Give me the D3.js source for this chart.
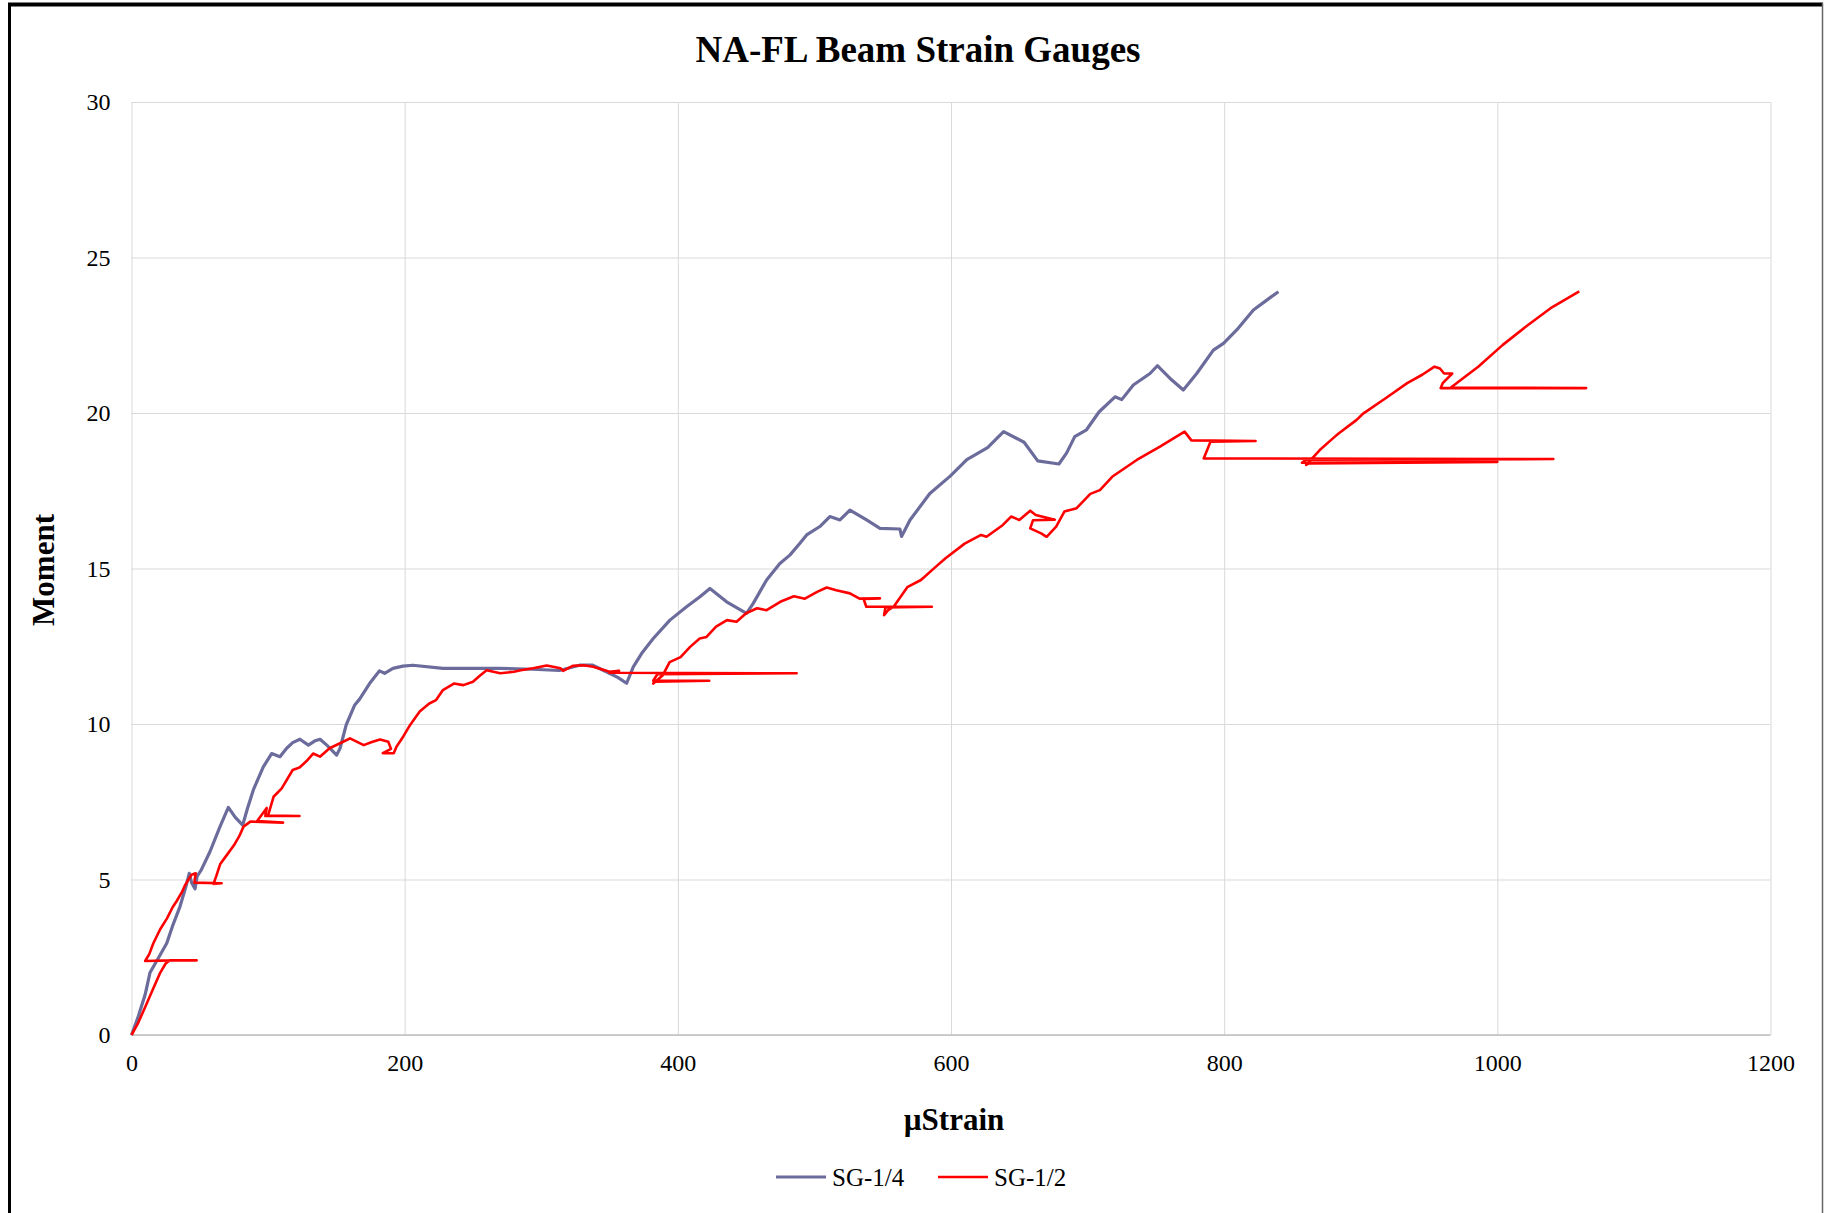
<!DOCTYPE html>
<html>
<head>
<meta charset="utf-8">
<script src="https://cdn.jsdelivr.net/npm/d3@7"></script>
<style>
  body { margin: 0; background: #fff; }
  svg { display: block; font-family: "Liberation Serif", "Times New Roman", serif; }
  .grid line { stroke: #d9d9d9; stroke-width: 1; }
  .tick text { fill: #000; }
</style>
</head>
<body>
<svg id="chart" width="1824" height="1213"></svg>
<script>
// series: [µStrain, Moment]
var sgQuarter = [
  [0,0],[5,0.6],[10,1.3],[13.5,2.0],[20,2.5],[25.8,2.95],[30,3.5],[35.5,4.13],[40,4.8],[42.3,5.2],
  [44,4.9],[46.5,4.7],[48,5.1],[51,5.3],[57.5,5.9],[64.8,6.7],[70.9,7.32],[76,7.0],[81.4,6.75],
  [85,7.3],[89.2,7.88],[96.5,8.62],[102.6,9.05],[108.7,8.95],[113.6,9.22],[118,9.4],[123.3,9.51],
  [129.5,9.32],[134,9.45],[138,9.51],[143,9.32],[150.2,9.0],[152.7,9.22],[157.2,9.97],[163.3,10.6],
  [167,10.8],[174.3,11.3],[181.6,11.71],[185.3,11.63],[191.4,11.79],[198.7,11.86],[206,11.89],
  [228,11.79],[245,11.79],[269.4,11.79],[293.8,11.76],[313.3,11.72],[328,11.89],[337.7,11.89],
  [349.9,11.63],[356,11.5],[362.5,11.31],[367.4,11.84],[374,12.3],[382,12.75],[394.2,13.34],
  [406.4,13.77],[416.2,14.09],[423.5,14.36],[435.7,13.93],[450.3,13.56],[455.2,13.88],[465,14.63],
  [474.7,15.16],[482,15.43],[489.4,15.81],[494.3,16.08],[504,16.35],[511.3,16.67],[518.7,16.56],
  [526,16.88],[538.2,16.56],[548,16.29],[562.6,16.27],[563.8,16.03],[570,16.56],[584.5,17.41],
  [599.4,17.97],[611.6,18.5],[626.8,18.89],[638.5,19.4],[653.5,19.06],[663.5,18.46],[679,18.36],
  [684.6,18.71],[690.6,19.24],[699.2,19.46],[708.5,20.04],[720.1,20.52],[725,20.43],[733.5,20.9],
  [745.7,21.27],[751.1,21.52],[760.4,21.11],[770.1,20.74],[779.9,21.27],[792.1,22.02],[799.5,22.24],
  [809.2,22.67],[821.4,23.31],[831.2,23.63],[839.7,23.9]
];

var sgHalf = [
  [0,0],[5,0.4],[11,1.0],[16,1.5],[21,2.0],[25,2.3],[28,2.4],[47.7,2.4],[30,2.4],[10,2.38],
  [13,2.6],[16,2.95],[21,3.4],[26,3.75],[30,4.1],[33,4.3],[37,4.6],[39,4.8],[41,4.95],[44,5.15],
  [47,5.2],[46,4.9],[66,4.88],[60,4.86],[62,5.1],[65,5.5],[70,5.8],[75,6.1],[79,6.4],[82,6.7],
  [87,6.86],[111,6.83],[92,6.88],[99,7.3],[98,7.04],[123,7.04],[100,7.06],[104,7.66],[110,7.93],
  [118,8.52],[123,8.6],[128,8.8],[133,9.05],[138,8.95],[145,9.22],[155,9.43],[160,9.54],[170,9.32],
  [176,9.42],[182,9.5],[188,9.43],[190,9.2],[184,9.06],[192,9.06],[194,9.27],[199,9.6],[204,9.97],
  [211,10.4],[218,10.66],[223,10.77],[228,11.09],[236,11.3],[243,11.25],[250,11.36],[255,11.55],
  [260,11.73],[270,11.63],[280,11.68],[285,11.73],[294,11.79],[304,11.88],[314,11.79],[316,11.71],
  [323,11.87],[331,11.89],[338,11.84],[350,11.68],[357,11.71],[350,11.65],[487,11.63],[385,11.6],
  [382,11.39],[423,11.39],[383,11.36],[382,11.3],[389,11.57],[394,11.99],[402,12.15],[409,12.48],[416,12.75],
  [421,12.8],[428,13.13],[436,13.34],[443,13.29],[450,13.56],[458,13.72],[465,13.66],[475,13.93],
  [485,14.11],[493,14.03],[502,14.25],[509,14.39],[516,14.3],[526,14.2],[533,14.03],[548,14.04],
  [536,14.02],[538,13.77],[586,13.77],[552,13.75],[551,13.5],[554,13.66],[558,13.77],[568,14.4],[578,14.63],
  [590,15.1],[596,15.33],[610,15.8],[622,16.08],[626,16.02],[638,16.4],[644,16.67],[650,16.56],
  [658,16.86],[662,16.72],[676,16.57],[660,16.55],[658,16.29],[666,16.13],[670,16.02],[677,16.35],
  [683,16.83],[692,16.94],[702,17.4],[709,17.52],[718,17.95],[736,18.49],[753,18.92],[765,19.24],
  [771,19.4],[776,19.12],[823,19.1],[790,19.08],[788,18.86],[785,18.54],[1041,18.52],[860,18.5],
  [857,18.4],[1000,18.43],[862,18.38],[860,18.33],[870,18.81],[880,19.2],[884,19.35],[897,19.78],[902,19.99],
  [919,20.5],[934,20.96],[945,21.23],[954,21.49],[958,21.43],[961,21.27],[967,21.27],[960,20.96],
  [958.5,20.8],[1065,20.8],[966,20.82],[986,21.49],[1004,22.19],[1021,22.78],[1039,23.37],[1060,23.91]
];

var seriesNames = ["SG-1/4", "SG-1/2"];
var seriesColors = ["#6b6b9c", "#ff0000"];
var xTicks = [0, 200, 400, 600, 800, 1000, 1200];
var yTicks = [0, 5, 10, 15, 20, 25, 30];

var svg = d3.select("#chart");

var x = d3.scaleLinear().domain([0, 1200]).range([131.5, 1770.5]);
var y = d3.scaleLinear().domain([0, 30]).range([1035, 102]);

// frame round the chart
svg.append("line").attr("x1", 8).attr("x2", 1823).attr("y1", 4.5).attr("y2", 4.5)
    .attr("stroke", "#000").attr("stroke-width", 4);
svg.append("line").attr("x1", 9.5).attr("x2", 9.5).attr("y1", 3).attr("y2", 1213)
    .attr("stroke", "#000").attr("stroke-width", 3);
svg.append("line").attr("x1", 1822.5).attr("x2", 1822.5).attr("y1", 3).attr("y2", 1213)
    .attr("stroke", "#666").attr("stroke-width", 1.5);

// gridlines
svg.append("g")
    .attr("class", "grid")
    .attr("transform", "translate(0," + y(0) + ")")
    .call(d3.axisBottom(x).tickValues(xTicks).tickSize(y(30) - y(0)).tickFormat(""))
    .call(function(g) { g.select(".domain").remove(); });

svg.append("g")
    .attr("class", "grid")
    .attr("transform", "translate(" + x(0) + ",0)")
    .call(d3.axisLeft(y).tickValues(yTicks).tickSize(-(x(1200) - x(0))).tickFormat(""))
    .call(function(g) { g.select(".domain").remove(); });

// x axis baseline
svg.append("line")
    .attr("x1", x(0)).attr("x2", x(1200))
    .attr("y1", y(0)).attr("y2", y(0))
    .attr("stroke", "#bfbfbf").attr("stroke-width", 1.5);

// tick labels
var xAxis = svg.append("g")
    .attr("transform", "translate(0," + y(0) + ")")
    .call(d3.axisBottom(x).tickValues(xTicks).tickSize(0).tickPadding(19).tickFormat(d3.format("d")));
xAxis.select(".domain").remove();
xAxis.selectAll("text").style("font-size", "24px").style("font-family", "Liberation Serif");

var yAxis = svg.append("g")
    .attr("transform", "translate(" + x(0) + ",0)")
    .call(d3.axisLeft(y).tickValues(yTicks).tickSize(0).tickPadding(21).tickFormat(d3.format("d")));
yAxis.select(".domain").remove();
yAxis.selectAll("text").style("font-size", "24px").style("font-family", "Liberation Serif");

// series
var line = d3.line()
    .x(function(d) { return x(d[0]); })
    .y(function(d) { return y(d[1]); });

svg.append("path")
    .datum(sgQuarter)
    .attr("fill", "none")
    .attr("stroke", seriesColors[0])
    .attr("stroke-width", 3.2)
    .attr("stroke-linejoin", "round")
    .attr("d", line);

svg.append("path")
    .datum(sgHalf)
    .attr("fill", "none")
    .attr("stroke", seriesColors[1])
    .attr("stroke-width", 2.6)
    .attr("stroke-linejoin", "round")
    .attr("d", line);

// titles
svg.append("text")
    .attr("x", 918).attr("y", 49)
    .attr("text-anchor", "middle").attr("dominant-baseline", "central")
    .style("font-size", "37px").style("font-weight", "bold")
    .text("NA-FL Beam Strain Gauges");

svg.append("text")
    .attr("x", 954).attr("y", 1119)
    .attr("text-anchor", "middle").attr("dominant-baseline", "central")
    .style("font-size", "31px").style("font-weight", "bold")
    .text("µStrain");

svg.append("text")
    .attr("transform", "translate(43,570) rotate(-90)")
    .attr("text-anchor", "middle").attr("dominant-baseline", "central")
    .style("font-size", "31px").style("font-weight", "bold")
    .text("Moment");

// legend
var legend = svg.append("g").attr("transform", "translate(776,1177)");
var legendX = [0, 162];
seriesNames.forEach(function(name, i) {
  var g = legend.append("g").attr("transform", "translate(" + legendX[i] + ",0)");
  g.append("line")
      .attr("x1", 0).attr("x2", 50)
      .attr("stroke", seriesColors[i])
      .attr("stroke-width", i === 0 ? 3.2 : 2.6);
  g.append("text")
      .attr("x", 56).attr("dominant-baseline", "central")
      .style("font-size", "25px")
      .text(name);
});
</script>
</body>
</html>
